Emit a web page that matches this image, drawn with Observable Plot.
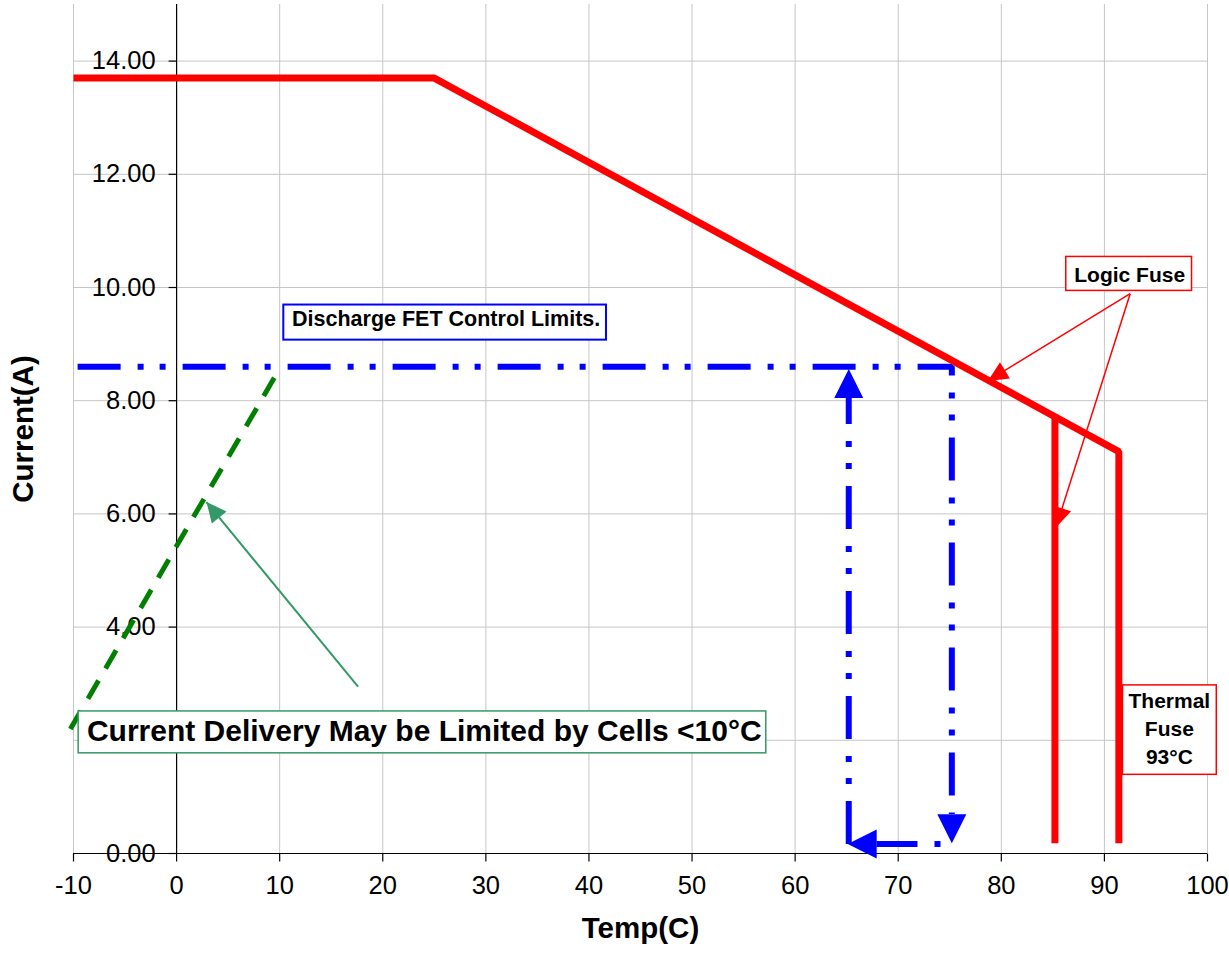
<!DOCTYPE html>
<html><head><meta charset="utf-8">
<script src="https://cdn.jsdelivr.net/npm/d3@7"></script>
<script src="https://cdn.jsdelivr.net/npm/@observablehq/plot@0.6"></script>
<style>html,body{margin:0;padding:0;background:#fff;} #chart svg{display:block;}</style>
</head><body><div id="chart"></div>
<script>
// ---------- data ----------
const xTicks = [-10, 0, 10, 20, 30, 40, 50, 60, 70, 80, 90, 100];
const xTickLabels = ["-10", "0", "10", "20", "30", "40", "50", "60", "70", "80", "90", "100"];
const yTicks = [0, 2, 4, 6, 8, 10, 12, 14];
// the 2.00 label is hidden behind the green callout box in the original
const yTickLabels = ["0.00", "", "4.00", "6.00", "8.00", "10.00", "12.00", "14.00"];

// Logic fuse limit (red)
const logicTemp = [-10, 25, 91.4, 91.4];
const logicCurrent = [13.7, 13.7, 7.1, 0.18];
const stepTemp = [85.2, 85.2];
const stepCurrent = [7.7, 0.18];

// Discharge FET control limits (blue)
const fetTemp = [-9.6, 75.2, 75.2];
const fetCurrent = [8.6, 8.6, 0.7];
const returnTemp = [74.1, 67.9];
const returnCurrent = [0.17, 0.17];
const riseTemp = [65.2, 65.2];
const riseCurrent = [0.17, 8.05];
// arrow heads of the blue path: [from, tip]
const fetHeadTemp = [[75.2, 75.2], [67.9, 65.1], [65.2, 65.2]];
const fetHeadCurrent = [[0.7, 0.18], [0.17, 0.17], [8.05, 8.56]];

// Cold cell limit (green dashed)
const coldTemp = [-10.3, 10.1];
const coldCurrent = [2.2, 8.6];

// Callout pointers: [tail, tip]
const pointerTemp = [[92.5, 78.7], [92.5, 85.3], [17.6, 2.9]];
const pointerCurrent = [[9.89, 8.35], [9.89, 5.76], [2.95, 6.21]];
const pointerColor = ["#ff0000", "#ff0000", "#339966"];

// Annotation boxes
const noteText = ["Discharge FET Control Limits.", "Logic Fuse", "Thermal\nFuse\n93°C", "Current Delivery May be Limited by Cells <10°C"];
const noteTemp1 = [10.4, 86.3, 91.8, -9.5];
const noteTemp2 = [41.7, 98.5, 100.9, 57.2];
const noteCurrent1 = [9.07, 9.94, 1.39, 1.77];
const noteCurrent2 = [9.69, 10.54, 2.97, 2.51];
const noteTextTemp = [11.2, 92.45, 96.3, -8.7];
const noteTextCurrent = [9.44, 10.26, 2.24, 2.16];
const noteBorder = ["#0000ff", "#ff0000", "#ff0000", "#339966"];

// ---------- layout ----------
const W = 1229, H = 953, ML = 73, MR = 22, MT = 4, MB = 100;
const xDomain = [-10, 100], yDomain = [0, 15];
const xs = d3.scaleLinear(xDomain, [ML, W - MR]);
const ys = d3.scaleLinear(yDomain, [H - MB, MT]);
const FONT = "Liberation Sans, Arial, sans-serif";

const rows = (t, c) => t.map((v, i) => ({t: v, c: c[i]}));
const angle = (t0, c0, t1, c1) => {
  const dx = xs(t1) - xs(t0), dy = ys(c1) - ys(c0);
  return Math.atan2(dx, -dy) * 180 / Math.PI;
};
const head = (L, Wd) => ({draw(ctx) { ctx.moveTo(0, 0); ctx.lineTo(-Wd / 2, L); ctx.lineTo(Wd / 2, L); ctx.closePath(); }});
const tickLeft = {draw(ctx) { ctx.moveTo(-8, 0); ctx.lineTo(0, 0); }};
const tickDown = {draw(ctx) { ctx.moveTo(0, 0); ctx.lineTo(0, 8); }};

const fetHeads = fetHeadTemp.map((t, i) => ({
  t: t[1], c: fetHeadCurrent[i][1],
  a: angle(t[0], fetHeadCurrent[i][0], t[1], fetHeadCurrent[i][1])
}));
const pointers = pointerTemp.map((t, i) => ({
  t0: t[0], c0: pointerCurrent[i][0], t1: t[1], c1: pointerCurrent[i][1],
  a: angle(t[0], pointerCurrent[i][0], t[1], pointerCurrent[i][1]),
  color: pointerColor[i]
}));
const notes = noteText.map((s, i) => ({
  s, x1: noteTemp1[i], x2: noteTemp2[i], y1: noteCurrent1[i], y2: noteCurrent2[i],
  tx: noteTextTemp[i], ty: noteTextCurrent[i], border: noteBorder[i]
}));

const blueDash = "43,17,6,16,6,17";

const chart = Plot.plot({
  width: W, height: H,
  marginLeft: ML, marginRight: MR, marginTop: MT, marginBottom: MB,
  style: {fontFamily: FONT, background: "white", overflow: "visible"},
  x: {domain: xDomain, axis: null},
  y: {domain: yDomain, axis: null},
  marks: [
    // grid
    Plot.ruleX(xTicks, {stroke: "#c6c6c6", strokeWidth: 1}),
    Plot.ruleY(yTicks, {stroke: "#c6c6c6", strokeWidth: 1}),
    // axes
    Plot.ruleY([0], {stroke: "black", strokeWidth: 1.2}),
    Plot.ruleX([0], {stroke: "black", strokeWidth: 1.2}),
    Plot.dot(yTicks, {x: () => 0, y: d => d, symbol: tickLeft, r: 4, stroke: "black", fill: "none", strokeWidth: 1.2}),
    Plot.dot(xTicks, {x: d => d, y: () => 0, symbol: tickDown, r: 4, stroke: "black", fill: "none", strokeWidth: 1.2}),
    Plot.text(yTicks, {x: () => 0, y: d => d, text: (d, i) => yTickLabels[i], textAnchor: "end", dx: -21, fontSize: 25.5, fill: "black"}),
    Plot.text(xTicks, {x: d => d, frameAnchor: "bottom", dy: 40, text: (d, i) => xTickLabels[i], fontSize: 25.5, fill: "black"}),
    Plot.text(["Temp(C)"], {frameAnchor: "bottom", dy: 84, fontSize: 29.5, fontWeight: "bold", fill: "black"}),
    Plot.text(["Current(A)"], {frameAnchor: "left", textAnchor: "middle", dx: -50, rotate: -90, fontSize: 29.5, fontWeight: "bold", fill: "black"}),
    // green dashed cold limit
    Plot.line(rows(coldTemp, coldCurrent), {x: "t", y: "c", stroke: "#008000", strokeWidth: 5, strokeDasharray: "21,14", strokeLinecap: "butt"}),
    // blue FET control limits
    Plot.line(rows(fetTemp, fetCurrent), {x: "t", y: "c", stroke: "#0000ff", strokeWidth: 6, strokeDasharray: blueDash, strokeLinecap: "butt", strokeLinejoin: "miter"}),
    Plot.line(rows(returnTemp, returnCurrent), {x: "t", y: "c", stroke: "#0000ff", strokeWidth: 6, strokeDasharray: blueDash, strokeDashoffset: 82, strokeLinecap: "butt"}),
    Plot.line(rows(riseTemp, riseCurrent), {x: "t", y: "c", stroke: "#0000ff", strokeWidth: 6, strokeDasharray: blueDash, strokeLinecap: "butt"}),
    Plot.dot(fetHeads, {x: "t", y: "c", rotate: "a", symbol: head(29, 29), r: 5, fill: "#0000ff", stroke: "none"}),
    // red logic fuse
    Plot.line(rows(logicTemp, logicCurrent), {x: "t", y: "c", stroke: "#ff0000", strokeWidth: 7, strokeLinejoin: "miter", strokeLinecap: "butt"}),
    Plot.line(rows(stepTemp, stepCurrent), {x: "t", y: "c", stroke: "#ff0000", strokeWidth: 7, strokeLinecap: "butt"}),
    // annotation boxes
    Plot.rect(notes, {x1: "x1", x2: "x2", y1: "y1", y2: "y2", fill: "white", stroke: "border",
      strokeWidth: d => d.border === "#0000ff" ? 2 : 1.5,
      strokeDasharray: d => d.border === "#0000ff" ? "10,5,3,5" : null}),
    Plot.text(notes.filter((d, i) => i === 0 || i === 3), {x: "tx", y: "ty", text: "s", textAnchor: "start", fontWeight: "bold", fill: "black",
      fontSize: d => d.s.length > 35 ? 30 : 21.5}),
    Plot.text(notes.filter((d, i) => i === 1 || i === 2), {x: "tx", y: "ty", text: "s", textAnchor: "middle", fontWeight: "bold", fill: "black",
      fontSize: 21, lineHeight: 1.33}),
    // callout pointers
    Plot.link(pointers, {x1: "t0", y1: "c0", x2: "t1", y2: "c1", stroke: "color", strokeWidth: d => d.color === "#339966" ? 2 : 1.5}),
    Plot.dot(pointers, {x: "t1", y: "c1", rotate: "a", symbol: head(20, 19), r: 5, fill: "color", stroke: "none"})
  ]
});
document.getElementById("chart").appendChild(chart);
</script>
</body></html>
